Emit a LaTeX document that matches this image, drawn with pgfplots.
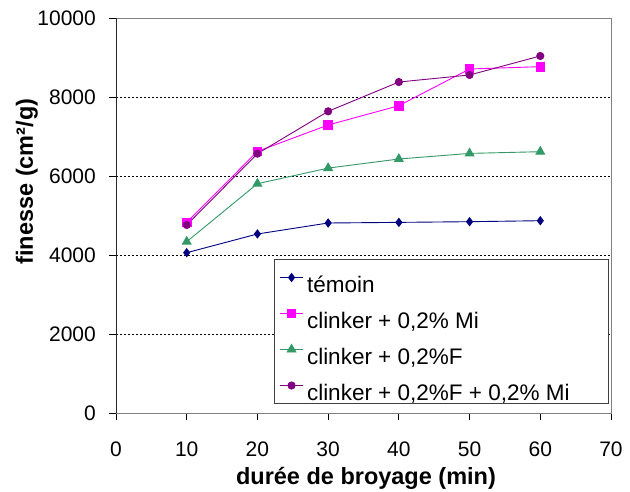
\documentclass[border=0pt]{standalone}
\usepackage{fontspec}
\setmainfont{Liberation Sans}
\usepackage{pgfplots}
\pgfplotsset{compat=1.18}
\definecolor{cNavy}{RGB}{0,0,128}
\definecolor{cMag}{RGB}{255,0,255}
\definecolor{cGreen}{RGB}{51,153,102}
\definecolor{cPurp}{RGB}{128,0,128}
\begin{document}
\begin{tikzpicture}[x=1pt,y=1pt]
\useasboundingbox (-116,-79) rectangle (514,413);
\begin{axis}[
  at={(0,0)}, anchor=south west,
  width=495pt, height=395pt, scale only axis,
  xmin=0, xmax=70, ymin=0, ymax=10000,
  xtick={0,10,...,70}, ytick={0,2000,...,10000},
  scaled y ticks=false,
  /pgf/number format/1000 sep={},
  /pgf/number format/assume math mode=true,
  tick align=outside, xtick pos=bottom, ytick pos=left,
  major tick length=7pt,
  tick style={black, line width=0.8pt},
  axis line style={draw=gray, line width=0.8pt},
  ymajorgrids,
  grid style={black, line width=0.7pt, dash pattern=on 2pt off 2pt},
  ticklabel style={font=\fontsize{21}{24}\selectfont},
  xticklabel style={anchor=base, inner sep=0pt, yshift=-37pt},
  yticklabel style={anchor=east, inner sep=0pt, xshift=-13pt},
  xlabel={durée de broyage (min)},
  ylabel={finesse (cm²/g)},
  xlabel style={font=\bfseries\fontsize{23.5}{27}\selectfont, at={(axis description cs:0.505,-0.165)}, anchor=center},
  ylabel style={font=\bfseries\fontsize{23.5}{27}\selectfont, at={(axis description cs:-0.18,0.586)}, anchor=center},
  legend cell align=left,
  legend style={at={(rel axis cs:0.996,0.023)}, anchor=south east,
    draw=black!75, line width=0.8pt, fill=white,
    font=\fontsize{22.5}{26}\selectfont,
    inner xsep=5.5pt, inner ysep=0pt, row sep=0pt,
    nodes={inner xsep=3.5pt, inner ysep=0pt, text height=33pt, text depth=3pt}},
  legend image code/.code={\draw[mark repeat=2,mark phase=2] plot coordinates {(0pt,0pt) (11.5pt,0pt) (23pt,0pt)};},
]
\addplot[color=cNavy, line width=0.9pt, mark=diamond*, mark size=4pt, mark options={solid, fill=cNavy}]
  coordinates {(10,4058)(20,4532)(30,4810)(40,4826)(50,4843)(60,4868)};
\addlegendentry{témoin}
\addplot[color=cMag, line width=0.9pt, mark=square*, mark size=4.3pt, mark options={solid, fill=cMag}]
  coordinates {(10,4826)(20,6623)(30,7291)(40,7780)(50,8709)(60,8768)};
\addlegendentry{clinker + 0,2\% Mi}
\addplot[color=cGreen, line width=0.9pt, mark=triangle*, mark size=5pt, mark options={solid, fill=cGreen}]
  coordinates {(10,4337)(20,5805)(30,6200)(40,6430)(50,6572)(60,6615)};
\addlegendentry{clinker + 0,2\%F}
\addplot[color=cPurp, line width=0.9pt, mark=*, mark size=3.6pt, mark options={solid, fill=cPurp}]
  coordinates {(10,4760)(20,6565)(30,7637)(40,8379)(50,8557)(60,9038)};
\addlegendentry{clinker + 0,2\%F + 0,2\% Mi\hspace*{30pt}}
\draw[black!85, line width=0.8pt] (rel axis cs:0,1) -- (rel axis cs:0,0) -- (rel axis cs:1,0);
\end{axis}
\end{tikzpicture}
\end{document}
